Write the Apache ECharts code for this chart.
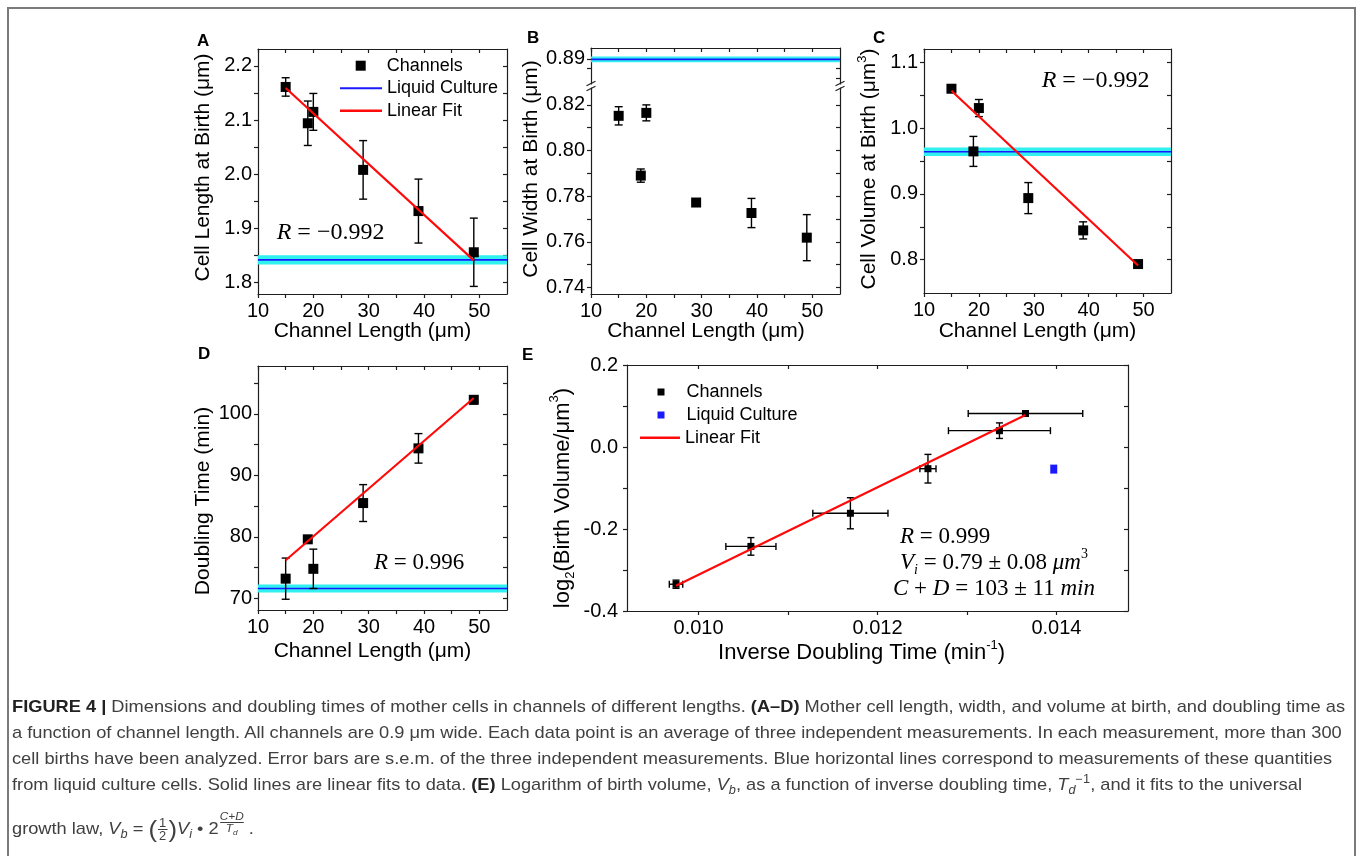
<!DOCTYPE html>
<html><head><meta charset="utf-8">
<script src="https://cdn.jsdelivr.net/npm/echarts@6.0.0/dist/echarts.min.js"></script>
<style>
html,body{margin:0;padding:0;background:#fff;}
#wrap{position:relative;width:1358px;height:856px;overflow:hidden;background:#fff;}
#frame{position:absolute;left:7px;top:7px;width:1349px;height:900px;border:2px solid #7a7a7a;box-sizing:border-box;}
#chart{position:absolute;left:0;top:0;width:1358px;height:856px;}
.cap{position:absolute;left:12px;white-space:nowrap;font-family:'Liberation Sans Narrow','Liberation Sans',Arial,sans-serif;font-size:17px;line-height:20px;height:20px;color:#404040;transform-origin:0 50%;}
.cap b{color:#222;}
.cap sub,.cap sup{font-size:70%;line-height:0;}
.frac{display:inline-flex;flex-direction:column;vertical-align:middle;text-align:center;font-size:12px;line-height:12px;margin:0 1px;}
.frac>span:first-child{border-bottom:1px solid #404040;padding:0 1px;}
.big{font-size:24px;vertical-align:-3px;font-weight:200;}
.expo{display:inline-flex;flex-direction:column;text-align:center;font-size:11px;line-height:11px;vertical-align:14px;margin-left:1px;}
.expo>span:first-child{border-bottom:1px solid #404040;}
</style></head><body>
<div id="wrap">
<div id="frame"></div>
<div id="chart"></div>
<div class="cap" id="c1" style="top:697px"><b>FIGURE 4 |</b> Dimensions and doubling times of mother cells in channels of different lengths. <b>(A–D)</b> Mother cell length, width, and volume at birth, and doubling time as</div>
<div class="cap" id="c2" style="top:723px">a function of channel length. All channels are 0.9 μm wide. Each data point is an average of three independent measurements. In each measurement, more than 300</div>
<div class="cap" id="c3" style="top:749px">cell births have been analyzed. Error bars are s.e.m. of the three independent measurements. Blue horizontal lines correspond to measurements of these quantities</div>
<div class="cap" id="c4" style="top:775px">from liquid culture cells. Solid lines are linear fits to data. <b>(E)</b> Logarithm of birth volume, <i>V<sub>b</sub></i>, as a function of inverse doubling time, <i>T<sub>d</sub></i><sup>−1</sup>, and it fits to the universal</div>
<div class="cap" id="c5" style="top:811px">growth law, <i>V<sub>b</sub></i> = <span class="big">(</span><span class="frac"><span>1</span><span>2</span></span><span class="big">)</span><i>V<sub>i</sub></i> • 2<span class="expo"><span><i>C+D</i></span><span><i>T<sub>d</sub></i></span></span> .</div>
</div>
<script>
// ---------------- data ----------------
const channelLength = [15, 19, 20, 29, 39, 49];

const lengthAtBirth = [2.161, 2.094, 2.115, 2.008, 1.932, 1.856];
const lengthSem = [0.017, 0.041, 0.034, 0.054, 0.059, 0.063];
const lengthLiquid = [1.842, 0.0085];          // mean, band half width
const lengthFit = [[15, 2.159], [49, 1.841]];

const widthAtBirth = [0.8152, 0.7890, 0.8165, 0.7772, 0.7726, 0.7618];
const widthSem = [0.0040, 0.0029, 0.0035, 0.0007, 0.0064, 0.0101];
const widthLiquid = [0.8898, 0.0015];

const volumeAtBirth = [1.060, 0.9647, 1.0306, 0.8937, 0.8446, 0.7934];
const volumeSem = [0.0028, 0.0228, 0.013, 0.0236, 0.013, 0.003];
const volumeLiquid = [0.9642, 0.0066];
const volumeFit = [[15, 1.057], [49, 0.7913]];

const doublingTime = [73.2, 79.6, 74.8, 85.5, 94.4, 102.3];
const doublingSem = [3.35, 0.4, 3.2, 3.0, 2.4, 0.65];
const doublingLiquid = [71.6, 0.65];
const doublingFit = [[15, 76.2], [49, 102.6]];

const inverseDoubling = [0.009748, 0.010585, 0.011697, 0.012564, 0.013363, 0.013654];
const inverseDoublingErr = [0.000075, 0.00028, 0.00042, 0.00009, 0.00057, 0.00064];
const log2Volume = [-0.3345, -0.242, -0.161, -0.052, 0.041, 0.083];
const log2VolumeErr = [0.010, 0.0215, 0.038, 0.035, 0.019, 0.006];
const liquidPointE = [[0.01397, -0.053]];
const fitE = [[0.009748, -0.3385], [0.013654, 0.0791]];

// tick marks and labels
const chTicks = [10, 15, 20, 25, 30, 35, 40, 45, 50];
const chLabels = [10, 20, 30, 40, 50];
const aTicks = [1.8, 1.85, 1.9, 1.95, 2.0, 2.05, 2.1, 2.15, 2.2];
const aLabels = [1.8, 1.9, 2.0, 2.1, 2.2];
const bUpTicks = [0.88, 0.885, 0.89];
const bUpLabels = [0.88, 0.89];
const bLoTicks = [0.74, 0.75, 0.76, 0.77, 0.78, 0.79, 0.80, 0.81, 0.82];
const bLoLabels = [0.74, 0.76, 0.78, 0.80, 0.82];
const cTicks = [0.8, 0.85, 0.9, 0.95, 1.0, 1.05, 1.1];
const cLabels = [0.8, 0.9, 1.0, 1.1];
const dTicks = [70, 75, 80, 85, 90, 95, 100, 105];
const dLabels = [70, 80, 90, 100];
const eXTicks = [0.010, 0.011, 0.012, 0.013, 0.014];
const eXLabels = [0.010, 0.012, 0.014];
const eYTicks = [-0.4, -0.3, -0.2, -0.1, 0.0, 0.1, 0.2];
const eYLabels = [-0.4, -0.2, 0.0, 0.2];

// ---------------- styling helpers ----------------
const FONT = "'Liberation Sans', Arial, Helvetica, sans-serif";
const SERIF = "'Liberation Serif', 'Times New Roman', serif";
const AX = '#1e1e1e';
const BLUE = '#1a1aff';
const CYAN = '#30f0f0';
const RED = '#ff0a0a';

const grids = [
  {left: 258, top: 49, width: 249, height: 245},   // 0 A
  {left: 591, top: 48, width: 249, height: 36},    // 1 B upper
  {left: 591, top: 88, width: 249, height: 206},   // 2 B lower
  {left: 924, top: 49, width: 247, height: 244},   // 3 C
  {left: 258, top: 366, width: 249, height: 244},  // 4 D
  {left: 627, top: 365, width: 501, height: 246}   // 5 E
].map(g => Object.assign({outerBoundsMode: 'none', containLabel: false}, g));

const xAxis = [], yAxis = [];
function axis(list, o) {
  const a = {
    type: 'value', gridIndex: o.grid, min: o.min, max: o.max, position: o.pos,
    axisLine: {show: o.line !== false, onZero: false, lineStyle: {color: AX, width: 1.2}},
    axisTick: {show: true, inside: !!o.inside, length: 4, customValues: o.ticks, lineStyle: {color: AX, width: 1.2}},
    axisLabel: {show: !!o.labels, customValues: o.labels || [], formatter: o.fmt, margin: o.margin || 7,
      color: '#000', fontSize: o.fs || 20, fontFamily: FONT},
    splitLine: {show: false}, minorTick: {show: false}, minorSplitLine: {show: false}
  };
  list.push(a);
  return list.length - 1;
}
const f1 = v => v.toFixed(1), f2 = v => v.toFixed(2), f0 = v => v.toFixed(0), f3 = v => v.toFixed(3);

function stdPanel(grid, xr, yr, xT, xL, yT, yL, fx, fy, opts) {
  opts = opts || {};
  const xi = axis(xAxis, {grid, min: xr[0], max: xr[1], pos: 'bottom', ticks: xT, labels: xL, fmt: fx, margin: opts.xm, fs: opts.fs});
  axis(xAxis, {grid, min: xr[0], max: xr[1], pos: 'top', ticks: xT, inside: true});
  const yi = axis(yAxis, {grid, min: yr[0], max: yr[1], pos: 'left', ticks: yT, labels: yL, fmt: fy, margin: opts.ym || 6, fs: opts.fs});
  axis(yAxis, {grid, min: yr[0], max: yr[1], pos: 'right', ticks: yT, inside: true});
  return [xi, yi];
}

const [axA, ayA] = stdPanel(0, [10, 55], [1.779, 2.231], chTicks, chLabels, aTicks, aLabels, f0, f1);
// B: broken axis, two stacked grids
const axBu = axis(xAxis, {grid: 1, min: 10, max: 55, pos: 'top', ticks: chTicks, inside: true});
const ayBu = axis(yAxis, {grid: 1, min: 0.8770, max: 0.8957, pos: 'left', ticks: bUpTicks, labels: bUpLabels, fmt: f2, margin: 6});
axis(yAxis, {grid: 1, min: 0.8770, max: 0.8957, pos: 'right', ticks: bUpTicks, inside: true});
const axBl = axis(xAxis, {grid: 2, min: 10, max: 55, pos: 'bottom', ticks: chTicks, labels: chLabels, fmt: f0});
const ayBl = axis(yAxis, {grid: 2, min: 0.7371, max: 0.8274, pos: 'left', ticks: bLoTicks, labels: bLoLabels, fmt: f2, margin: 6});
axis(yAxis, {grid: 2, min: 0.7371, max: 0.8274, pos: 'right', ticks: bLoTicks, inside: true});
const [axC, ayC] = stdPanel(3, [10, 55], [0.7494, 1.1204], chTicks, chLabels, cTicks, cLabels, f0, f1);
const [axD, ayD] = stdPanel(4, [10, 55], [68.1, 107.8], chTicks, chLabels, dTicks, dLabels, f0, f0);
const [axE, ayE] = stdPanel(5, [0.0092, 0.0148], [-0.4, 0.2016], eXTicks, eXLabels, eYTicks, eYLabels, f3, f1, {ym: 9});

// ---------------- series helpers ----------------
function vErr(cap, color) {
  return function (params, api) {
    const x = api.value(0), lo = api.value(2), hi = api.value(3);
    const a = api.coord([x, lo]), b = api.coord([x, hi]);
    const st = {stroke: color, lineWidth: 1.4};
    return {type: 'group', children: [
      {type: 'line', shape: {x1: a[0], y1: a[1], x2: b[0], y2: b[1]}, style: st},
      {type: 'line', shape: {x1: a[0] - cap, y1: a[1], x2: a[0] + cap, y2: a[1]}, style: st},
      {type: 'line', shape: {x1: b[0] - cap, y1: b[1], x2: b[0] + cap, y2: b[1]}, style: st}
    ]};
  };
}
function xyErr(params, api) {
  const x = api.value(0), y = api.value(1);
  const xl = api.coord([api.value(2), y]), xh = api.coord([api.value(3), y]);
  const yl = api.coord([x, api.value(4)]), yh = api.coord([x, api.value(5)]);
  const st = {stroke: '#000', lineWidth: 1.4}, cap = 3.5;
  return {type: 'group', children: [
    {type: 'line', shape: {x1: xl[0], y1: xl[1], x2: xh[0], y2: xh[1]}, style: st},
    {type: 'line', shape: {x1: xl[0], y1: xl[1] - cap, x2: xl[0], y2: xl[1] + cap}, style: st},
    {type: 'line', shape: {x1: xh[0], y1: xh[1] - cap, x2: xh[0], y2: xh[1] + cap}, style: st},
    {type: 'line', shape: {x1: yl[0], y1: yl[1], x2: yh[0], y2: yh[1]}, style: st},
    {type: 'line', shape: {x1: yl[0] - cap, y1: yl[1], x2: yl[0] + cap, y2: yl[1]}, style: st},
    {type: 'line', shape: {x1: yh[0] - cap, y1: yh[1], x2: yh[0] + cap, y2: yh[1]}, style: st}
  ]};
}
const pts = (xs, ys) => xs.map((x, i) => [x, ys[i]]);
const errs = (xs, ys, s) => xs.map((x, i) => [x, ys[i], ys[i] - s[i], ys[i] + s[i]]);

function liquid(xi, yi, lq, xr) {
  return {type: 'line', name: 'Liquid Culture', xAxisIndex: xi, yAxisIndex: yi,
    data: [[xr[0], lq[0]], [xr[1], lq[0]]], symbol: 'none', showSymbol: false, silent: true,
    lineStyle: {color: BLUE, width: 1.6}, itemStyle: {color: BLUE, opacity: 1}, z: 1,
    markArea: {silent: true, itemStyle: {color: CYAN, opacity: 1}, data: [[{yAxis: lq[0] - lq[1]}, {yAxis: lq[0] + lq[1]}]]}};
}
function fit(xi, yi, d, name) {
  return {type: 'line', name: name || 'Linear Fit', xAxisIndex: xi, yAxisIndex: yi, data: d, symbol: 'none',
    showSymbol: false, silent: true, lineStyle: {color: RED, width: 2.2}, itemStyle: {color: RED, opacity: 1}, z: 4};
}
function chan(xi, yi, ys, sem) {
  return [
    {type: 'custom', name: 'err', xAxisIndex: xi, yAxisIndex: yi, renderItem: vErr(4, '#000'),
      data: errs(channelLength, ys, sem), silent: true, z: 2},
    {type: 'scatter', name: 'Channels', xAxisIndex: xi, yAxisIndex: yi, data: pts(channelLength, ys),
      symbol: 'rect', symbolSize: 10, itemStyle: {color: '#000', opacity: 1}, silent: true, z: 3}
  ];
}

const series = [
  liquid(axA, ayA, lengthLiquid, [10, 55]),
  ...chan(axA, ayA, lengthAtBirth, lengthSem),
  fit(axA, ayA, lengthFit),

  liquid(axBu, ayBu, widthLiquid, [10, 55]),
  ...chan(axBl, ayBl, widthAtBirth, widthSem),

  liquid(axC, ayC, volumeLiquid, [10, 55]),
  ...chan(axC, ayC, volumeAtBirth, volumeSem),
  fit(axC, ayC, volumeFit),

  liquid(axD, ayD, doublingLiquid, [10, 55]),
  ...chan(axD, ayD, doublingTime, doublingSem),
  fit(axD, ayD, doublingFit),

  {type: 'custom', name: 'errE', xAxisIndex: axE, yAxisIndex: ayE, renderItem: xyErr, silent: true, z: 2,
    data: inverseDoubling.map((x, i) => [x, log2Volume[i], x - inverseDoublingErr[i], x + inverseDoublingErr[i],
      log2Volume[i] - log2VolumeErr[i], log2Volume[i] + log2VolumeErr[i]])},
  {type: 'scatter', name: 'Channels E', xAxisIndex: axE, yAxisIndex: ayE, data: pts(inverseDoubling, log2Volume),
    symbol: 'rect', symbolSize: 7, itemStyle: {color: '#000', opacity: 1}, silent: true, z: 3},
  {type: 'scatter', name: 'Liquid Culture E', xAxisIndex: axE, yAxisIndex: ayE, data: liquidPointE,
    symbol: 'rect', symbolSize: [7, 9], itemStyle: {color: BLUE, opacity: 1}, silent: true, z: 3},
  fit(axE, ayE, fitE, 'Linear Fit E')
];

// ---------------- legends ----------------
const legTxt = {fontFamily: FONT, fontSize: 18, color: '#000', lineHeight: 18};
function leg(name, left, cy, w, h, padL, label, icon) {
  return {show: true, data: [{name, icon: icon || 'rect'}], left, top: cy - 9, orient: 'vertical', itemWidth: w, itemHeight: h,
    selectedMode: false, padding: 0, formatter: () => label || name,
    itemStyle: {opacity: 1}, textStyle: Object.assign({padding: [0, 0, 0, padL || 0]}, legTxt)};
}
const legend = [
  leg('Channels', 355.7, 65.7, 10, 10, 16),
  leg('Liquid Culture', 340, 88.3, 42, 2, 0),
  leg('Linear Fit', 340, 110.7, 42, 2.6, 0),
  leg('Channels E', 657.5, 392, 7, 7, 17, 'Channels'),
  leg('Liquid Culture E', 657.5, 415, 7, 7, 17, 'Liquid Culture'),
  leg('Linear Fit E', 640, 437.7, 40, 2.6, 0, 'Linear Fit')
];

// ---------------- texts ----------------
function sansRich(fs) {
  return {
    n: {fontFamily: FONT, fontSize: fs, fill: '#000', color: '#000', lineHeight: Math.round(fs * 1.3)},
    sup: {fontFamily: FONT, fontSize: Math.round(fs * 0.6), fill: '#000', color: '#000', verticalAlign: 'top', lineHeight: Math.round(fs * 0.6)},
    sub: {fontFamily: FONT, fontSize: Math.round(fs * 0.6), fill: '#000', color: '#000', verticalAlign: 'bottom', lineHeight: Math.round(fs * 0.6)}
  };
}
function mathRich(fs) {
  return {
    n: {fontFamily: SERIF, fontSize: fs, fill: '#000', color: '#000', lineHeight: Math.round(fs * 1.3)},
    i: {fontFamily: SERIF, fontStyle: 'italic', fontSize: fs, fill: '#000', color: '#000', lineHeight: Math.round(fs * 1.3)},
    sup: {fontFamily: SERIF, fontSize: Math.round(fs * 0.62), fill: '#000', color: '#000', verticalAlign: 'top', lineHeight: Math.round(fs * 0.62)},
    sub: {fontFamily: SERIF, fontStyle: 'italic', fontSize: Math.round(fs * 0.62), fill: '#000', color: '#000', verticalAlign: 'bottom', lineHeight: Math.round(fs * 0.62)}
  };
}
function txt(x, y, text, rich, align, rot) {
  return {type: 'text', x, y, rotation: rot || 0, silent: true,
    style: {text, rich, align: align || 'left', textAlign: align || 'left', verticalAlign: 'middle', textVerticalAlign: 'middle'}};
}
function letter(x, y, t) {
  return {type: 'text', x, y, silent: true, style: {text: t, fill: '#000', font: `bold 17px ${FONT}`, verticalAlign: 'middle', textVerticalAlign: 'middle'}};
}
const R90 = Math.PI / 2;
const s21 = sansRich(21), s22 = sansRich(22);
const graphic = [
  letter(197, 41, 'A'), letter(527, 38.5, 'B'), letter(873, 38.5, 'C'), letter(198, 354, 'D'), letter(522, 355.5, 'E'),
  // axis titles
  txt(203, 167.5, '{n|Cell Length at Birth (μm)}', s21, 'center', R90),
  txt(372.5, 331.7, '{n|Channel Length (μm)}', s21, 'center'),
  txt(531, 169, '{n|Cell Width at Birth (μm)}', s21, 'center', R90),
  txt(706, 331.7, '{n|Channel Length (μm)}', s21, 'center'),
  txt(869, 169, '{n|Cell Volume at Birth (μm}{sup|3}{n|)}', s21, 'center', R90),
  txt(1037.5, 331.7, '{n|Channel Length (μm)}', s21, 'center'),
  txt(203, 501, '{n|Doubling Time (min)}', s21, 'center', R90),
  txt(372.5, 651.7, '{n|Channel Length (μm)}', s21, 'center'),
  txt(562.5, 498, '{n|log}{sub|2}{n|(Birth Volume/μm}{sup|3}{n|)}', s22, 'center', R90),
  txt(861.6, 653, '{n|Inverse Doubling Time (min}{sup|-1}{n|)}', s22, 'center'),
  // annotations
  txt(276.7, 233, '{i|R}{n| = −0.992}', mathRich(24)),
  txt(1041.7, 81, '{i|R}{n| = −0.992}', mathRich(24)),
  txt(374, 563, '{i|R}{n| = 0.996}', mathRich(23)),
  txt(900, 536.7, '{i|R}{n| = 0.999}', mathRich(23)),
  txt(900, 562.7, '{i|V}{sub|i}{n| = 0.79 ± 0.08 }{i|μm}{sup|3}', mathRich(23)),
  txt(893, 589, '{i|C}{n| + }{i|D}{n| = 103 ± 11 }{i|min}', mathRich(23))
];
// break marks on the B panel's vertical axes
[591, 840].forEach(x => {
  [83.5, 88.5].forEach(y => {
    graphic.push({type: 'line', silent: true, shape: {x1: x - 4.5, y1: y + 2.2, x2: x + 4.5, y2: y - 2.2},
      style: {stroke: AX, lineWidth: 1.2}});
  });
});

const chart = echarts.init(document.getElementById('chart'), null, {renderer: 'canvas'});
chart.setOption({
  animation: false,
  backgroundColor: 'transparent',
  grid: grids, xAxis, yAxis, series, legend, graphic,
  tooltip: {show: false}
});

// ---------------- caption fitting: one common horizontal scale from the first line ----------------
const c1 = document.getElementById('c1');
const capScale = (1345 - 12) / c1.getBoundingClientRect().width;
['c1', 'c2', 'c3', 'c4', 'c5'].forEach(id => {
  document.getElementById(id).style.transform = `scaleX(${capScale.toFixed(4)})`;
});
</script>
</body></html>
